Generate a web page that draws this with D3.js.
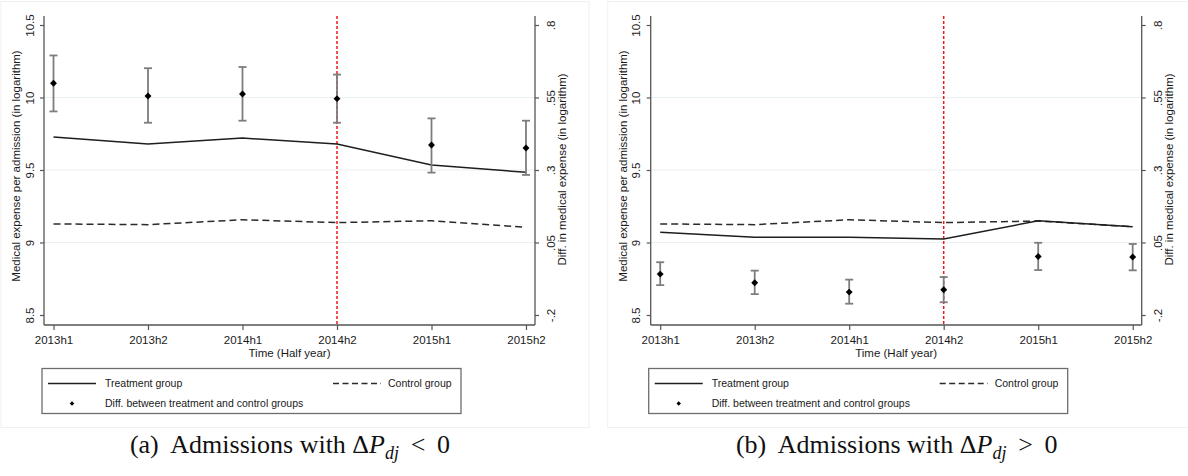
<!DOCTYPE html>
<html>
<head>
<meta charset="utf-8">
<script src="https://cdn.jsdelivr.net/npm/d3@7"></script>
<style>
  body { margin: 0; background: #fff; }
  svg { font-family: "Liberation Sans", Arial, sans-serif; }
  .tick text { font-size: 11.5px; fill: #1a1a1a; }
  .axis-title { font-size: 11.5px; fill: #1a1a1a; }
  .legend-text { font-size: 10.5px; fill: #1a1a1a; }
  .caption { font-family: "Liberation Serif", "Times New Roman", serif; font-size: 26px; fill: #111; }
</style>
</head>
<body>
<svg id="chart" width="1188" height="476"></svg>
<script>
const periods = ['2013h1', '2013h2', '2014h1', '2014h2', '2015h1', '2015h2'];
const leftTicks = [8.5, 9, 9.5, 10, 10.5];
const rightTicks = [-0.2, 0.05, 0.3, 0.55, 0.8];
const rightTickLabels = ['-.2', '.05', '.3', '.55', '.8'];
const gridValues = [9, 9.5, 10];
const policyPeriod = '2014h2';

// panel (a)
const treatA = [9.728, 9.68, 9.72, 9.68, 9.535, 9.484];
const controlA = [9.128, 9.123, 9.157, 9.137, 9.15, 9.105];
const diffA = [0.599, 0.555, 0.562, 0.546, 0.386, 0.376];
const lowA = [0.502, 0.463, 0.470, 0.463, 0.291, 0.283];
const highA = [0.695, 0.651, 0.655, 0.629, 0.478, 0.470];

// panel (b)
const treatB = [9.070, 9.036, 9.036, 9.024, 9.150, 9.109];
const controlB = [9.128, 9.123, 9.157, 9.137, 9.148, 9.109];
const diffB = [-0.059, -0.089, -0.121, -0.113, 0.002, 0.000];
const lowB = [-0.097, -0.128, -0.161, -0.156, -0.045, -0.046];
const highB = [-0.018, -0.047, -0.078, -0.069, 0.049, 0.045];

const legendLabels = ['Treatment group', 'Control group', 'Diff. between treatment and control groups'];

const svg = d3.select('#chart');

function drawPanel(ox, treat, control, diff, low, high, capLetter, capSign) {
    const g = svg.append('g').attr('transform', `translate(${ox},0)`);

    // faint outer frame
    g.append('rect')
        .attr('x', 1).attr('y', 1.5)
        .attr('width', 588).attr('height', 426)
        .attr('fill', 'none')
        .attr('stroke', '#f0f0f0');

    const axL = 44, axR = 535, axTop = 16, axBot = 325;

    const x = d3.scalePoint().domain(periods).range([53.5, 526]);
    const yL = d3.scaleLinear().domain([8.5, 10.5]).range([315, 25]);
    const yR = d3.scaleLinear().domain([-0.2, 0.8]).range([315, 25]);

    // grid lines
    g.selectAll('.grid')
        .data(gridValues)
        .enter()
        .append('line')
        .attr('x1', axL).attr('x2', axR)
        .attr('y1', d => yL(d)).attr('y2', d => yL(d))
        .attr('stroke', '#e8f0f1')
        .attr('stroke-width', 1.2);

    // axis frame lines
    const axisColor = '#555';
    g.append('line').attr('x1', axL).attr('x2', axL).attr('y1', axTop).attr('y2', axBot)
        .attr('stroke', axisColor).attr('stroke-width', 1.3);
    g.append('line').attr('x1', axR).attr('x2', axR).attr('y1', axTop).attr('y2', axBot)
        .attr('stroke', axisColor).attr('stroke-width', 1.3);
    g.append('line').attr('x1', axL).attr('x2', axR).attr('y1', axBot).attr('y2', axBot)
        .attr('stroke', axisColor).attr('stroke-width', 1.3);

    // left axis
    const left = g.append('g')
        .attr('transform', `translate(${axL},0)`)
        .call(d3.axisLeft(yL).tickValues(leftTicks).tickSize(4).tickFormat(d3.format('')));
    left.select('.domain').remove();
    left.selectAll('.tick line').attr('stroke', axisColor).attr('stroke-width', 1.2);
    left.selectAll('.tick text')
        .attr('transform', 'rotate(-90)')
        .attr('x', 0).attr('y', -10.5).attr('dy', 0)
        .attr('text-anchor', 'middle');

    // right axis
    const right = g.append('g')
        .attr('transform', `translate(${axR},0)`)
        .call(d3.axisRight(yR).tickValues(rightTicks).tickSize(4)
            .tickFormat((d, i) => rightTickLabels[i]));
    right.select('.domain').remove();
    right.selectAll('.tick line').attr('stroke', axisColor).attr('stroke-width', 1.2);
    right.selectAll('.tick text')
        .attr('transform', 'rotate(-90)')
        .attr('x', 0).attr('y', 20).attr('dy', 0)
        .attr('text-anchor', 'middle');

    // bottom axis
    const bottom = g.append('g')
        .attr('transform', `translate(0,${axBot})`)
        .call(d3.axisBottom(x).tickSize(5));
    bottom.select('.domain').remove();
    bottom.selectAll('.tick line').attr('stroke', axisColor).attr('stroke-width', 1.2);
    bottom.selectAll('.tick text').attr('y', 19).attr('dy', 0);

    // axis titles
    g.append('text')
        .attr('class', 'axis-title')
        .attr('transform', `translate(${20},${166}) rotate(-90)`)
        .attr('text-anchor', 'middle')
        .text('Medical expense per admission (in logarithm)');
    g.append('text')
        .attr('class', 'axis-title')
        .attr('transform', `translate(${566},${169.5}) rotate(-90)`)
        .attr('text-anchor', 'middle')
        .text('Diff. in medical expense (in logarithm)');
    g.append('text')
        .attr('class', 'axis-title')
        .attr('x', (axL + axR) / 2).attr('y', 357)
        .attr('text-anchor', 'middle')
        .text('Time (Half year)');

    // policy line
    g.append('line')
        .attr('x1', x(policyPeriod)).attr('x2', x(policyPeriod))
        .attr('y1', axTop).attr('y2', axBot)
        .attr('stroke', '#f01a1a')
        .attr('stroke-width', 1.5)
        .attr('stroke-dasharray', '3,2');

    // treatment and control lines
    const lineL = d3.line().x((d, i) => x(periods[i])).y(d => yL(d));
    g.append('path')
        .attr('d', lineL(control))
        .attr('fill', 'none')
        .attr('stroke', '#2a2a2a')
        .attr('stroke-width', 1.5)
        .attr('stroke-dasharray', '7,4');
    g.append('path')
        .attr('d', lineL(treat))
        .attr('fill', 'none')
        .attr('stroke', '#1e1e1e')
        .attr('stroke-width', 1.5);

    // error bars
    const bars = g.selectAll('.ci')
        .data(periods.map((p, i) => ({ p, v: diff[i], lo: low[i], hi: high[i] })))
        .enter()
        .append('g');
    const barColor = '#7d7d7d';
    bars.append('line')
        .attr('x1', d => x(d.p)).attr('x2', d => x(d.p))
        .attr('y1', d => yR(d.lo)).attr('y2', d => yR(d.hi))
        .attr('stroke', barColor).attr('stroke-width', 1.8);
    bars.append('line')
        .attr('x1', d => x(d.p) - 4).attr('x2', d => x(d.p) + 4)
        .attr('y1', d => yR(d.lo)).attr('y2', d => yR(d.lo))
        .attr('stroke', barColor).attr('stroke-width', 1.8);
    bars.append('line')
        .attr('x1', d => x(d.p) - 4).attr('x2', d => x(d.p) + 4)
        .attr('y1', d => yR(d.hi)).attr('y2', d => yR(d.hi))
        .attr('stroke', barColor).attr('stroke-width', 1.8);
    const diamond = d3.symbol().type(d3.symbolSquare).size(24);
    bars.append('path')
        .attr('d', diamond)
        .attr('transform', d => `translate(${x(d.p)},${yR(d.v)}) rotate(45)`)
        .attr('fill', '#000');

    // legend
    const lx = 42, ly = 368.5, lw = 419, lh = 45;
    const lg = g.append('g');
    lg.append('rect')
        .attr('x', lx).attr('y', ly).attr('width', lw).attr('height', lh)
        .attr('fill', '#fff')
        .attr('stroke', '#6e6e6e')
        .attr('stroke-width', 1.3);
    lg.append('line')
        .attr('x1', lx + 6).attr('x2', lx + 54)
        .attr('y1', ly + 15).attr('y2', ly + 15)
        .attr('stroke', '#1e1e1e').attr('stroke-width', 1.3);
    lg.append('text').attr('class', 'legend-text')
        .attr('x', lx + 63).attr('y', ly + 18.5).text(legendLabels[0]);
    lg.append('line')
        .attr('x1', lx + 291).attr('x2', lx + 339)
        .attr('y1', ly + 15).attr('y2', ly + 15)
        .attr('stroke', '#2a2a2a').attr('stroke-width', 1.3)
        .attr('stroke-dasharray', '6,3.5');
    lg.append('text').attr('class', 'legend-text')
        .attr('x', lx + 346).attr('y', ly + 18.5).text(legendLabels[1]);
    lg.append('path')
        .attr('d', d3.symbol().type(d3.symbolSquare).size(10))
        .attr('transform', `translate(${lx + 30},${ly + 35}) rotate(45)`)
        .attr('fill', '#000');
    lg.append('text').attr('class', 'legend-text')
        .attr('x', lx + 63).attr('y', ly + 38.5).text(legendLabels[2]);

    // caption
    const cap = g.append('text')
        .attr('class', 'caption')
        .attr('x', 290).attr('y', 453)
        .attr('text-anchor', 'middle');
    cap.append('tspan').text(`(${capLetter})\u00a0 Admissions with \u0394`);
    cap.append('tspan').attr('font-style', 'italic').text('P');
    cap.append('tspan').attr('font-style', 'italic').attr('font-size', '18px')
        .attr('dy', 6).text('dj');
    cap.append('tspan').attr('dy', -6).text(`\u2009 ${capSign}\u2009 0`);
}

drawPanel(0, treatA, controlA, diffA, lowA, highA, 'a', '<');
drawPanel(606.7, treatB, controlB, diffB, lowB, highB, 'b', '>');
</script>
</body>
</html>
